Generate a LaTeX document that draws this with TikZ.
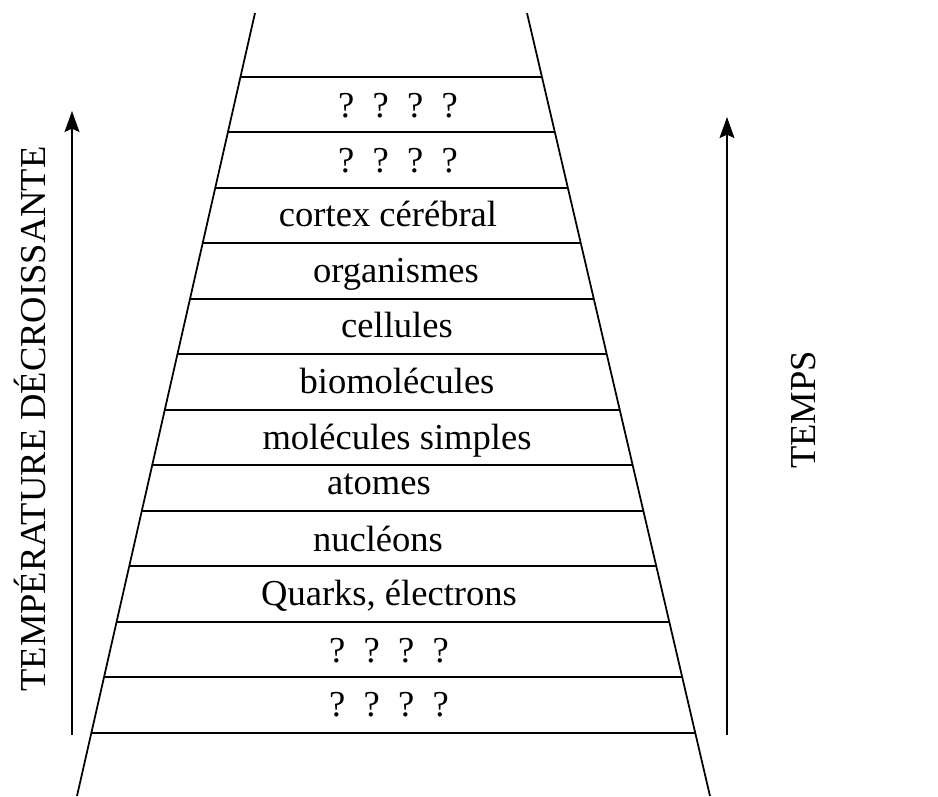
\documentclass[tikz,border=0pt]{standalone}
\usepackage{fontspec}
\setmainfont{Liberation Serif}
\usetikzlibrary{calc,arrows.meta}

\begin{document}
\begin{tikzpicture}[
                    x=0.02cm, y=-0.02cm,
                    edge/.style={line width=1pt, draw=black},
                    level/.style={anchor=base, inner sep=0pt, font=\fontsize{20.8}{25}\selectfont},
                    axislabel/.style={anchor=base, rotate=90, inner sep=0pt, font=\fontsize{20.8}{25}\selectfont},
                    arrow/.style={-{Stealth[length=12pt, width=8.5pt, inset=2pt]}, line width=1pt}
                ]
                \useasboundingbox (0,0) rectangle (938,796);

                % Sides of the funnel
                \coordinate (lt) at (255,13);
                \coordinate (lb) at (77,796);
                \coordinate (rt) at (527,13);
                \coordinate (rb) at (710,796);
                \draw[edge] (lt) -- (lb);
                \draw[edge] (rt) -- (rb);

                % Levels
                \foreach \y in {77,132,188,243,299,354,410,465,511,566,622,677,733}
                    \draw[edge] ($(lt)!{(\y-13)/783}!(lb)$) -- ($(rt)!{(\y-13)/783}!(rb)$);

                % Level texts
                \node[level] (unknown1) at (398,117) {?\enspace?\enspace?\enspace?};
                \node[level] (unknown2) at (398,172) {?\enspace?\enspace?\enspace?};
                \node[level] (cortex) at (388,226) {cortex cérébral};
                \node[level] (organismes) at (396,282) {organismes};
                \node[level] (cellules) at (397,337) {cellules};
                \node[level] (biomol) at (397,393) {biomolécules};
                \node[level] (molsimples) at (397,449) {molécules simples};
                \node[level] (atomes) at (379,494) {atomes};
                \node[level] (nucleons) at (378,551) {nucléons};
                \node[level] (quarks) at (389,605) {Quarks, électrons};
                \node[level] (unknown3) at (389,662) {?\enspace?\enspace?\enspace?};
                \node[level] (unknown4) at (389,716) {?\enspace?\enspace?\enspace?};

                % Axes
                \coordinate (tstart) at (72,735);
                \coordinate (tend) at (72,111);
                \coordinate (sstart) at (727,735);
                \coordinate (send) at (727,117);
                \draw[arrow] (tstart) -- (tend);
                \draw[arrow] (sstart) -- (send);
                \node[axislabel] (temperature) at (46,419) {TEMPÉRATURE DÉCROISSANTE};
                \node[axislabel] (temps) at (815,410) {TEMPS};
            \end{tikzpicture}
\end{document}
